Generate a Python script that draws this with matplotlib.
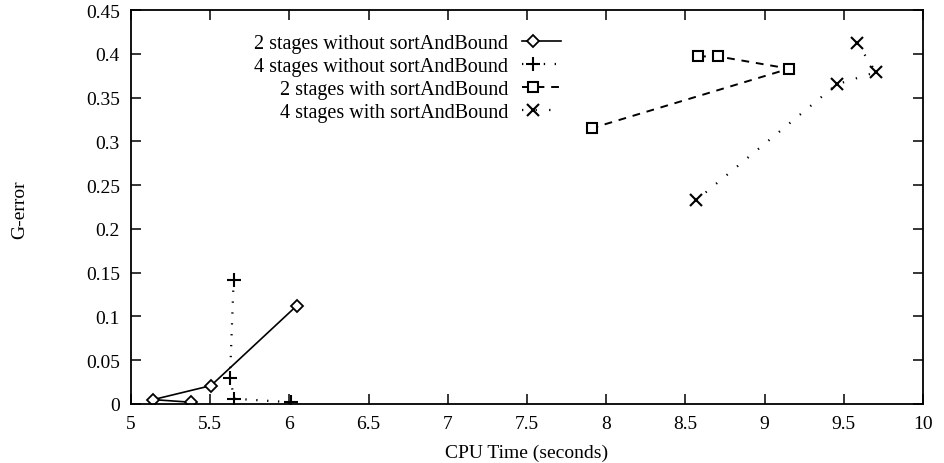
import matplotlib
matplotlib.use("Agg")
import matplotlib.pyplot as plt
from matplotlib.lines import Line2D
from matplotlib.ticker import FuncFormatter
from matplotlib.legend_handler import HandlerLine2D

plt.rcParams['font.family'] = ['Liberation Serif', 'DejaVu Serif']

# data (points in plotting order)
x_2_without = [5.38, 5.14, 5.505, 6.045]
y_2_without = [0.002, 0.005, 0.021, 0.112]

x_4_without = [5.648, 5.625, 5.652, 6.01]
y_4_without = [0.142, 0.030, 0.006, 0.002]

x_2_with = [8.58, 8.705, 9.155, 7.91]
y_2_with = [0.397, 0.397, 0.383, 0.315]

x_4_with = [9.585, 9.703, 9.455, 8.57]
y_4_with = [0.412, 0.379, 0.365, 0.233]

labels = ["2 stages without sortAndBound", "4 stages without sortAndBound",
          "2 stages with sortAndBound", "4 stages with sortAndBound"]


# gnuplot-like key: the marker sits left of the middle of the sample line
class LeftMarker(HandlerLine2D):
    def create_artists(self, legend, orig_handle, xdescent, ydescent,
                       width, height, fontsize, trans):
        y = height / 2 - ydescent
        x0, x1 = -xdescent, -xdescent + width
        line = Line2D([x0, x1], [y, y])
        self.update_prop(line, orig_handle, legend)
        line.set_marker("")
        mark = Line2D([x0 + 0.28 * width], [y])
        self.update_prop(mark, orig_handle, legend)
        mark.set_linestyle("None")
        line.set_transform(trans)
        mark.set_transform(trans)
        return [line, mark]


fig = plt.figure(figsize=(9.44, 4.64), dpi=100)
ax = fig.add_axes([131/944, 59/464, 792/944, 394/464])

ax.plot(x_2_without, y_2_without, color='black', lw=1.2, linestyle='-',
        marker='D', ms=6, mfc='white', mec='black', mew=1.3, label=labels[0])
ax.plot(x_4_without, y_4_without, color='black', lw=1.6, linestyle=(0, (0.6, 4.3)),
        marker='+', ms=10, mew=1.5, label=labels[1])
ax.plot(x_2_with, y_2_with, color='black', lw=1.4, linestyle=(0, (4, 3.5)),
        marker='s', ms=7, mfc='white', mec='black', mew=1.5, label=labels[2])
ax.plot(x_4_with, y_4_with, color='black', lw=1.6, linestyle=(0, (0.6, 5.5)),
        marker='x', ms=8, mew=1.5, label=labels[3])

ax.set_xlim(5, 10)
ax.set_ylim(0, 0.45)
ax.set_xticks([5, 5.5, 6, 6.5, 7, 7.5, 8, 8.5, 9, 9.5, 10])
ax.set_yticks([0, 0.05, 0.1, 0.15, 0.2, 0.25, 0.3, 0.35, 0.4, 0.45])
ax.xaxis.set_major_formatter(FuncFormatter(lambda v, p: f"{v:g}"))
ax.yaxis.set_major_formatter(FuncFormatter(lambda v, p: f"{v:g}"))
ax.tick_params(direction='in', length=7, width=1.1, top=True, right=True,
               labelsize=14, pad=8)
for s in ax.spines.values():
    s.set_linewidth(1.3)

ax.set_xlabel("CPU Time (seconds)", fontsize=14, labelpad=8)
fig.text(20/944, 1 - 210/464, "G-error", rotation=90, fontsize=14,
         ha='center', va='center')

ax.legend(loc='upper right', bbox_to_anchor=((561 - 131)/792, (405 - 35)/394),
          frameon=False, markerfirst=False, numpoints=1, fontsize=14.5,
          handlelength=1.94, handletextpad=0.68, labelspacing=0.19,
          borderpad=0, borderaxespad=0, handler_map={Line2D: LeftMarker()})

fig.savefig("out.png", dpi=100)
